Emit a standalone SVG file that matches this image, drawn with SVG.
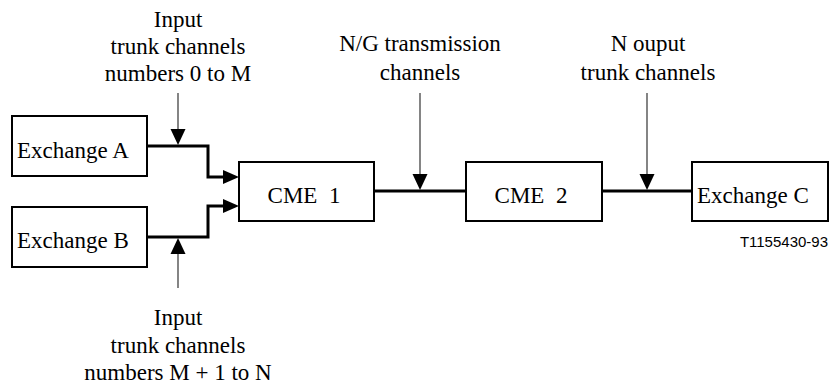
<svg xmlns="http://www.w3.org/2000/svg" width="832" height="389" viewBox="0 0 832 389">
<style>
  .box { fill: #ffffff; stroke: #000000; stroke-width: 2; }
  .lbl { font-family: 'Liberation Serif', 'DejaVu Serif', serif; font-size: 23px; fill: #000000; white-space: pre; }
  .mid { text-anchor: middle; }
  .thick { fill: none; stroke: #000000; stroke-width: 3; }
  .thin { fill: none; stroke: #333333; stroke-width: 1.2; }
  .head { fill: #000000; stroke: none; }
  .ref { font-family: 'Liberation Sans', Arial, sans-serif; font-size: 15px; fill: #000000; text-anchor: end; }
</style>
<rect width="832" height="389" fill="#ffffff"/>

<g id="connectors">
  <polyline class="thick" points="147,146 208,146 208,177 226,177"/>
  <polygon class="head" points="239,177 223,170 223,184"/>
  <polyline class="thick" points="147,237 208,237 208,206 226,206"/>
  <polygon class="head" points="239,206 223,199 223,213"/>
  <line class="thick" x1="374" y1="191" x2="466" y2="191"/>
  <line class="thick" x1="602" y1="191" x2="692" y2="191"/>
  <line class="thin" x1="178" y1="93" x2="178" y2="132"/>
  <polygon class="head" points="178,145 170.5,129 185.5,129"/>
  <line class="thin" x1="178" y1="288" x2="178" y2="252"/>
  <polygon class="head" points="178,238 170.5,254 185.5,254"/>
  <line class="thin" x1="420" y1="93" x2="420" y2="178"/>
  <polygon class="head" points="420,190 412.5,174 427.5,174"/>
  <line class="thin" x1="647" y1="93" x2="647" y2="178"/>
  <polygon class="head" points="647,190 639.5,174 654.5,174"/>
</g>

<g id="exchange-a">
  <rect class="box" x="12" y="116" width="135" height="60"/>
  <text class="lbl" x="17" y="158" font-family="Liberation Serif, DejaVu Serif, serif">Exchange A</text>
</g>
<g id="exchange-b">
  <rect class="box" x="12" y="207" width="135" height="60"/>
  <text class="lbl" x="17" y="248" font-family="Liberation Serif, DejaVu Serif, serif">Exchange B</text>
</g>
<g id="cme-1">
  <rect class="box" x="239" y="162" width="135" height="59"/>
  <text class="lbl mid" x="304" y="203" font-family="Liberation Serif, DejaVu Serif, serif">CME  1</text>
</g>
<g id="cme-2">
  <rect class="box" x="466" y="162" width="136" height="59"/>
  <text class="lbl mid" x="531" y="203" font-family="Liberation Serif, DejaVu Serif, serif">CME  2</text>
</g>
<g id="exchange-c">
  <rect class="box" x="692" y="162" width="136" height="59"/>
  <text class="lbl" x="697" y="203" font-family="Liberation Serif, DejaVu Serif, serif">Exchange C</text>
</g>

<g id="label-input-a" font-family="Liberation Serif, DejaVu Serif, serif">
  <text class="lbl mid" x="178" y="27">Input</text>
  <text class="lbl mid" x="178" y="54">trunk channels</text>
  <text class="lbl mid" x="178" y="81">numbers 0 to M</text>
</g>
<g id="label-input-b">
  <text class="lbl mid" x="178" y="325">Input</text>
  <text class="lbl mid" x="178" y="353">trunk channels</text>
  <text class="lbl mid" x="178" y="380">numbers M + 1 to N</text>
</g>
<g id="label-transmission">
  <text class="lbl mid" x="420" y="51">N/G transmission</text>
  <text class="lbl mid" x="420" y="80">channels</text>
</g>
<g id="label-output">
  <text class="lbl mid" x="648" y="51">N ouput</text>
  <text class="lbl mid" x="648" y="80">trunk channels</text>
</g>
<text class="ref" x="828" y="247">T1155430-93</text>
</svg>
